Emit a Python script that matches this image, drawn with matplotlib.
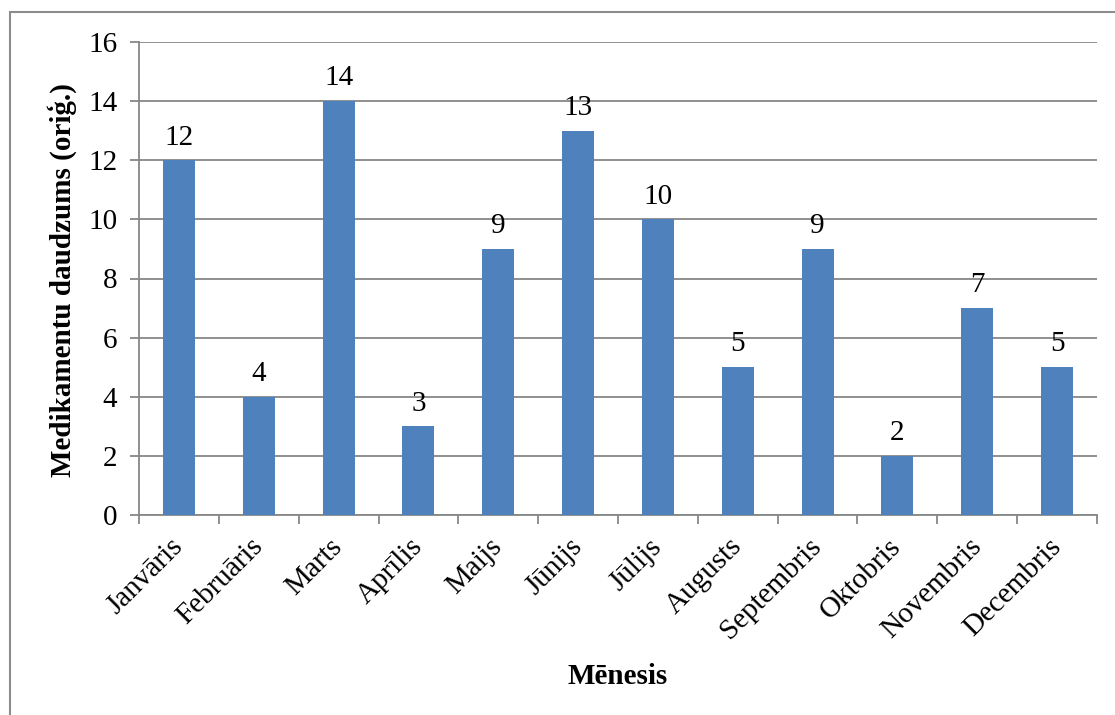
import matplotlib
matplotlib.use("Agg")
import matplotlib.pyplot as plt
from matplotlib.patches import Rectangle

months = ["Janvāris", "Februāris", "Marts", "Aprīlis", "Maijs", "Jūnijs",
          "Jūlijs", "Augusts", "Septembris", "Oktobris", "Novembris", "Decembris"]
counts = [12, 4, 14, 3, 9, 13, 10, 5, 9, 2, 7, 5]
y_ticks = [0, 2, 4, 6, 8, 10, 12, 14, 16]

plt.rcParams["font.family"] = ["Liberation Serif", "DejaVu Serif"]

W, H = 1115, 715
FS = 21
fig = plt.figure(figsize=(W / 100, H / 100), dpi=100)
ax = fig.add_axes([139 / W, 1 - 515 / H, (1097 - 139) / W, (515 - 42) / H])

grid_c = "#878787"
bar_c = "#4F81BD"

x = list(range(len(months)))
ax.bar(x, counts, width=0.4, color=bar_c, zorder=3)
for xi, v in zip(x, counts):
    ax.annotate(str(v), (xi, v), xytext=(0, 7), textcoords="offset points",
                ha="center", va="bottom", fontsize=FS, zorder=4)

ax.set_xlim(-0.5, len(months) - 0.5)
ax.set_ylim(0, 16)
ax.set_yticks(y_ticks)
ax.yaxis.grid(True, color=grid_c, linewidth=1.3, zorder=0)
ax.set_axisbelow(True)

for s in ["top", "right"]:
    ax.spines[s].set_visible(False)
for s in ["left", "bottom"]:
    ax.spines[s].set_color(grid_c)
    ax.spines[s].set_linewidth(1.3)

ax.set_xticks([i - 0.5 for i in range(len(months) + 1)], minor=False)
ax.set_xticklabels([])
ax.set_xticks(x, minor=True)
ax.set_xticklabels(months, minor=True, rotation=45, ha="right", va="center",
                   rotation_mode="anchor", fontsize=FS)
ax.tick_params(axis="x", which="major", length=6.5, width=1.3, color=grid_c)
ax.tick_params(axis="x", which="minor", length=0, pad=20)
ax.tick_params(axis="y", length=6.5, width=1.3, color=grid_c, labelsize=FS, pad=9)

fig.text(618 / W, 1 - 676 / H, "Mēnesis", fontsize=FS, fontweight="bold",
         ha="center", va="center")
fig.text(62 / W, 1 - 280 / H, "Medikamentu daudzums (oriģ.)", fontsize=FS,
         fontweight="bold", ha="center", va="center", rotation=90)

fig.patches.append(Rectangle((10 / W, -0.1), 1.2, 1.1 - 12 / H,
                             transform=fig.transFigure, fill=False,
                             edgecolor="#8C8C8C", linewidth=1.5))

fig.savefig("out.png", dpi=100, facecolor="white")
